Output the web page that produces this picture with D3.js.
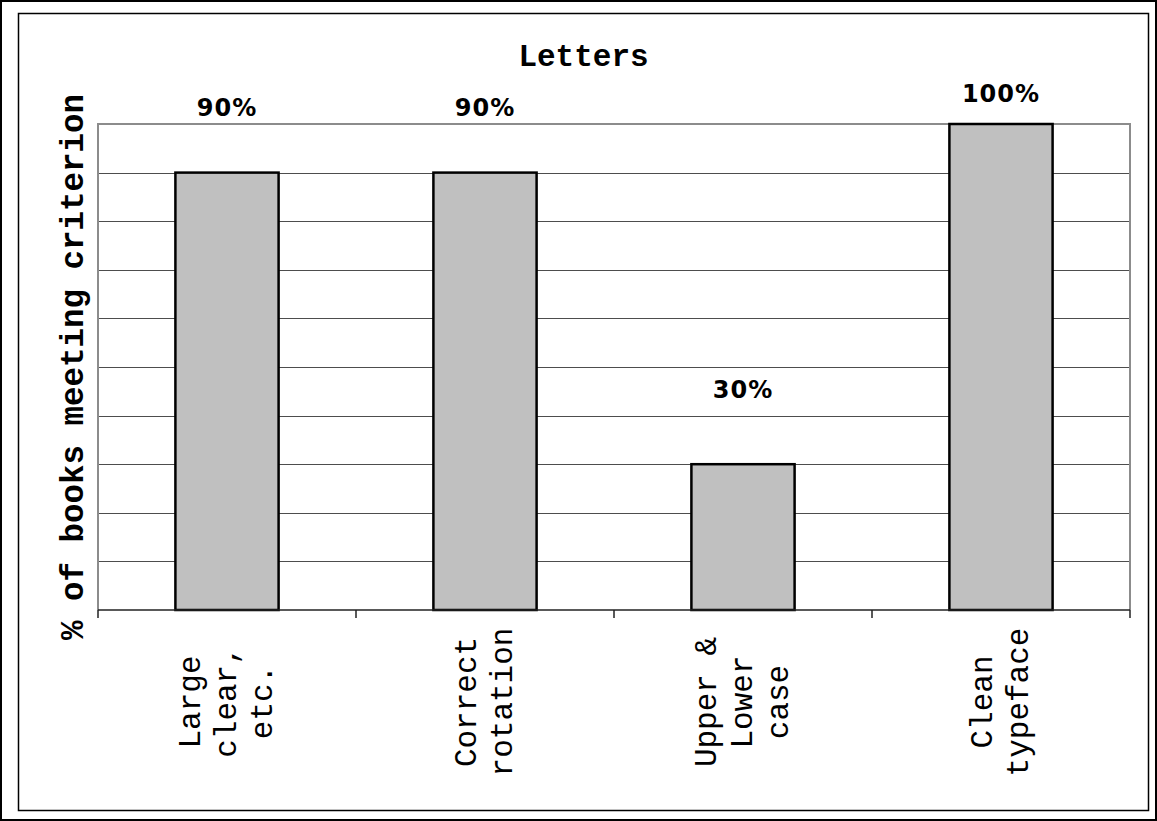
<!DOCTYPE html>
<html>
<head>
<meta charset="utf-8">
<script src="https://cdn.jsdelivr.net/npm/d3@7"></script>
<style>
  html, body { margin: 0; padding: 0; background: #fff; }
  svg { display: block; }
</style>
</head>
<body>
<div id="chart"></div>
<script>
// Share of books meeting each lettering criterion
const categories = ["Large clear, etc.", "Correct rotation", "Upper & Lower case", "Clean typeface"];
const categoryLines = [["Large", "clear,", "etc."], ["Correct", "rotation"], ["Upper &", "Lower", "case"], ["Clean", "typeface"]];
const values = [90, 90, 30, 100];
const valueLabels = ["90%", "90%", "30%", "100%"];
const yTicks = [0, 10, 20, 30, 40, 50, 60, 70, 80, 90, 100];
const chartTitle = "Letters";
const yTitle = "% of books meeting criterion";

// how far each value label sits above its bar top (px)
const labelLift = [57, 57, 66, 22];

const W = 1157, H = 821;
const plot = { left: 98, right: 1130, top: 124, bottom: 610 };
const mono = "'Courier New', Courier, 'Nimbus Mono PS', 'Nimbus Mono L', FreeMono, 'Liberation Mono', monospace";

const svg = d3.select("#chart").append("svg")
  .attr("width", W).attr("height", H);

svg.append("rect").attr("width", W).attr("height", H).attr("fill", "#fff");

// outer frame and chart-area frame
svg.append("rect").attr("x", 1).attr("y", 1).attr("width", W - 2).attr("height", H - 2)
  .attr("fill", "none").attr("stroke", "#000").attr("stroke-width", 2);
svg.append("rect").attr("x", 18.5).attr("y", 13.5).attr("width", 1130).attr("height", 797)
  .attr("fill", "none").attr("stroke", "#000").attr("stroke-width", 1.5);

const x = d3.scaleBand().domain(categories)
  .range([plot.left, plot.right]).paddingInner(0.6).paddingOuter(0.3);
const y = d3.scaleLinear().domain([0, 100]).range([plot.bottom, plot.top]);

// horizontal gridlines
svg.append("g")
  .selectAll("line")
  .data(yTicks.filter(t => t > 0 && t < 100))
  .join("line")
  .attr("x1", plot.left).attr("x2", plot.right)
  .attr("y1", d => Math.round(y(d)) + 0.5).attr("y2", d => Math.round(y(d)) + 0.5)
  .attr("stroke", "#4d4d4d").attr("stroke-width", 1);

// plot frame: top, left and right edges
svg.append("path")
  .attr("d", `M${plot.left},${plot.bottom}V${y(100)}H${plot.right}V${plot.bottom}`)
  .attr("fill", "none").attr("stroke", "#8c8c8c").attr("stroke-width", 2);

// bars
svg.append("g")
  .selectAll("rect")
  .data(values)
  .join("rect")
  .attr("x", (d, i) => x(categories[i]))
  .attr("y", d => y(d))
  .attr("width", x.bandwidth())
  .attr("height", d => y(0) - y(d))
  .attr("fill", "#c0c0c0")
  .attr("stroke", "#000")
  .attr("stroke-width", 2.5);

// category axis with boundary ticks
const step = x.step();
const boundaries = d3.range(categories.length + 1).map(i => plot.left + i * step);
const axisG = svg.append("g");
axisG.append("line")
  .attr("x1", plot.left).attr("x2", plot.right)
  .attr("y1", plot.bottom).attr("y2", plot.bottom)
  .attr("stroke", "#222").attr("stroke-width", 1.5);
axisG.selectAll("line.tick")
  .data(boundaries)
  .join("line")
  .attr("class", "tick")
  .attr("x1", d => d).attr("x2", d => d)
  .attr("y1", plot.bottom).attr("y2", plot.bottom + 8)
  .attr("stroke", "#222").attr("stroke-width", 1.5);

// rotated, wrapped category labels
const lineGap = 36;
categoryLines.forEach((lines, i) => {
  const cx = x(categories[i]) + x.bandwidth() / 2;
  lines.forEach((ln, j) => {
    const bx = cx + 9 + (j - (lines.length - 1) / 2) * lineGap;
    svg.append("text")
      .attr("transform", `translate(${bx},702) rotate(-90)`)
      .attr("text-anchor", "middle")
      .attr("font-family", mono)
      .attr("font-size", 31)
      .attr("fill", "#000")
      .text(ln);
  });
});

// value labels
svg.append("g")
  .selectAll("text")
  .data(values)
  .join("text")
  .attr("x", (d, i) => x(categories[i]) + x.bandwidth() / 2)
  .attr("y", (d, i) => y(d) - labelLift[i])
  .attr("text-anchor", "middle")
  .attr("font-family", "'DejaVu Sans', sans-serif")
  .attr("font-weight", "bold")
  .attr("font-size", 24)
  .attr("letter-spacing", 1)
  .attr("fill", "#000")
  .text((d, i) => valueLabels[i]);

// title
svg.append("text")
  .attr("x", 583.5).attr("y", 66)
  .attr("text-anchor", "middle")
  .attr("font-family", mono)
  .attr("font-weight", "bold")
  .attr("font-size", 31)
  .text(chartTitle);

// y-axis title
svg.append("text")
  .attr("transform", `translate(83,${(plot.top + plot.bottom) / 2}) rotate(-90)`)
  .attr("text-anchor", "middle")
  .attr("font-family", mono)
  .attr("font-weight", "bold")
  .attr("font-size", 32.5)
  .text(yTitle);
</script>
</body>
</html>
